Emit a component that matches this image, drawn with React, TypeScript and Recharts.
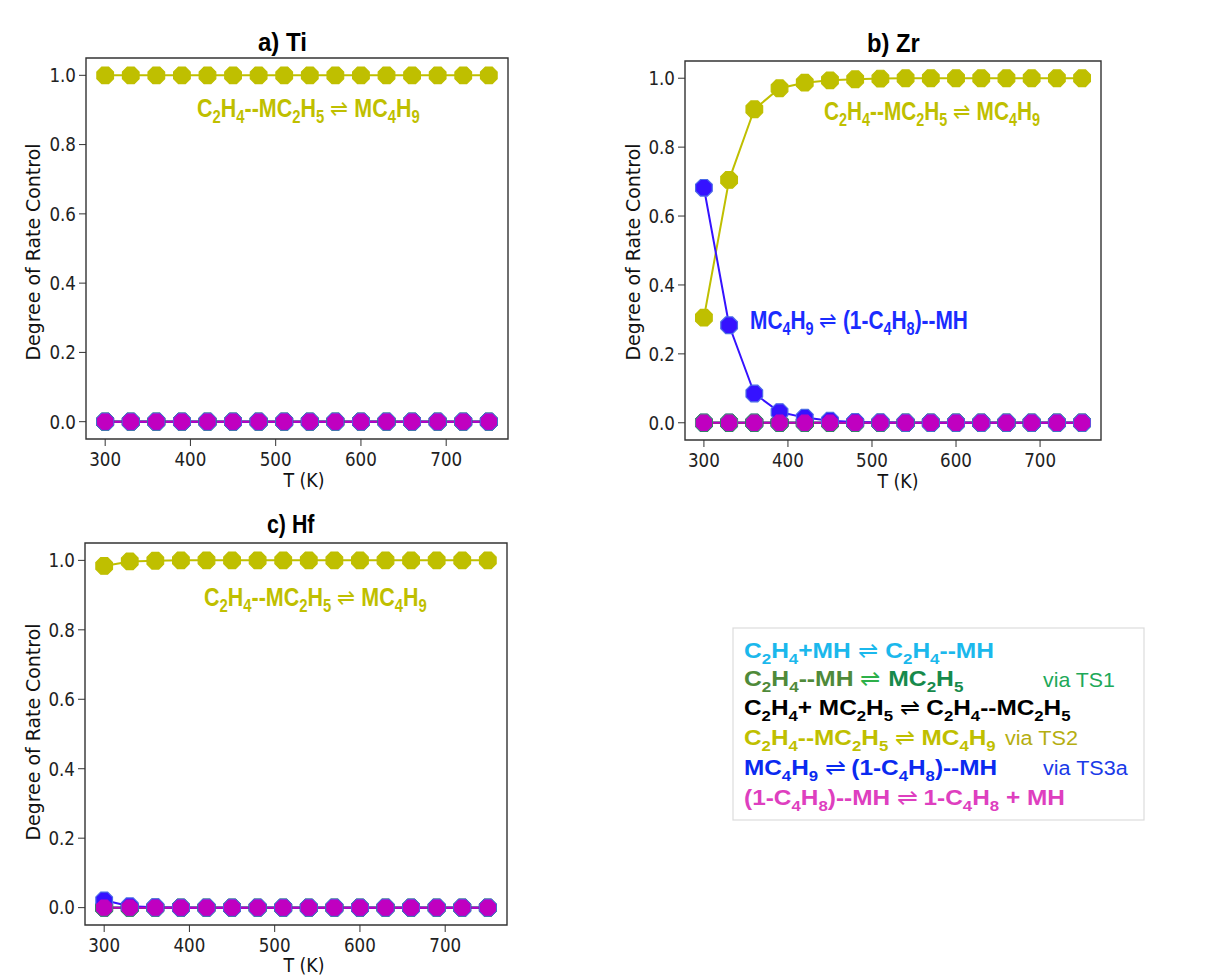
import React, { useLayoutEffect, useRef, useState } from "react";
import { LineChart, Line, XAxis, YAxis, ReferenceArea } from "recharts";

// Temperatures (K) shared by all three metals
const temps = [300, 330, 360, 390, 420, 450, 480, 510, 540, 570, 600, 630, 660, 690, 720, 750];

// Degree of rate control per elementary step
const allZero = [0, 0, 0, 0, 0, 0, 0, 0, 0, 0, 0, 0, 0, 0, 0, 0];
const allOne = [1, 1, 1, 1, 1, 1, 1, 1, 1, 1, 1, 1, 1, 1, 1, 1];

const tiInsertion2 = allOne;
const tiBetaH = allZero;

const zrInsertion2 = [0.305, 0.705, 0.91, 0.971, 0.987, 0.994, 0.997, 0.999, 1, 1, 1, 1, 1, 1, 1, 1];
const zrBetaH = [0.682, 0.283, 0.085, 0.031, 0.015, 0.006, 0.002, 0.001, 0, 0, 0, 0, 0, 0, 0, 0];

const hfInsertion2 = [0.984, 0.997, 0.999, 1, 1, 1, 1, 1, 1, 1, 1, 1, 1, 1, 1, 1];
const hfBetaH = [0.021, 0.004, 0.001, 0, 0, 0, 0, 0, 0, 0, 0, 0, 0, 0, 0, 0];

const xTicks = [300, 400, 500, 600, 700];
const yTicks = [0, 0.2, 0.4, 0.6, 0.8, 1.0];

const YELLOW = "#bfbf00";
const BLUE = "#3512ff";
const MAGENTA = "#c000c0";

// drawing order: later entries sit on top
const steps = [
  { key: "adsorb", color: "#1bb8ec", edge: "#1bb8ec", r: 9 },
  { key: "coord", color: "#000000", edge: "#000000", r: 9 },
  { key: "ins1", color: "#2a8a55", edge: "#3f9a78", r: 9 },
  { key: "ins2", color: YELLOW, edge: YELLOW, r: 9 },
  { key: "beta", color: BLUE, edge: "#4a6ae8", r: 9 },
  { key: "desorb", color: MAGENTA, edge: MAGENTA, r: 8.2 },
];

const buildRows = (ins2: number[], beta: number[]) =>
  temps.map((T, i) => ({
    T,
    adsorb: allZero[i],
    ins1: allZero[i],
    coord: allZero[i],
    ins2: ins2[i],
    beta: beta[i],
    desorb: allZero[i],
  }));

const tiRows = buildRows(tiInsertion2, tiBetaH);
const zrRows = buildRows(zrInsertion2, zrBetaH);
const hfRows = buildRows(hfInsertion2, hfBetaH);

// matplotlib-style "8" marker: octagon with a flat top
const octagon = (props: any, fill: string, stroke: string, r: number) => {
  const { cx, cy, index } = props;
  if (cx == null || cy == null) return <g key={`o-${index}`} />;
  const pts: string[] = [];
  for (let k = 0; k < 8; k++) {
    const a = Math.PI / 8 + (k * Math.PI) / 4;
    pts.push(`${cx + r * Math.cos(a)},${cy + r * Math.sin(a)}`);
  }
  return <polygon key={`o-${index}`} points={pts.join(" ")} fill={fill} stroke={stroke} strokeWidth={1.2} />;
};

// tick labels: DejaVu, slightly condensed
const TICK_SX = 0.88;
const XTick = (p: any) => (
  <text
    x={p.x}
    y={p.y}
    dy="0.74em"
    textAnchor="middle"
    fontFamily="DejaVu Sans"
    fontSize={19}
    fill="#222"
    transform={`translate(${p.x} 0) scale(${TICK_SX} 1) translate(${-p.x} 0)`}
  >
    {p.payload.value}
  </text>
);
const YTick = (p: any) => (
  <text
    x={p.x}
    y={p.y}
    dy="0.36em"
    textAnchor="end"
    fontFamily="DejaVu Sans"
    fontSize={19}
    fill="#222"
    transform={`translate(${p.x} 0) scale(${TICK_SX} 1) translate(${-p.x} 0)`}
  >
    {Number(p.payload.value).toFixed(1)}
  </text>
);

type Rect = { x0: number; y0: number; x1: number; y1: number };

const Panel = ({ rect, rows }: { rect: Rect; rows: any[] }) => {
  const yAxisW = 70;
  const xAxisH = 40;
  const padT = 10;
  const padR = 10;
  const width = yAxisW + (rect.x1 - rect.x0) + padR;
  const height = padT + (rect.y1 - rect.y0) + xAxisH;
  return (
    <div style={{ position: "absolute", left: rect.x0 - yAxisW, top: rect.y0 - padT }}>
      <LineChart width={width} height={height} data={rows} margin={{ top: padT, right: padR, bottom: 0, left: 0 }}>
        <XAxis
          dataKey="T"
          type="number"
          domain={[277.5, 772.5]}
          ticks={xTicks}
          allowDataOverflow
          height={xAxisH}
          tickSize={7}
          tickMargin={6}
          axisLine={false}
          tickLine={{ stroke: "#333" }}
          tick={XTick}
        />
        <YAxis
          type="number"
          domain={[-0.05, 1.05]}
          ticks={yTicks}
          allowDataOverflow
          width={yAxisW}
          tickSize={7}
          tickMargin={3}
          axisLine={false}
          tickLine={{ stroke: "#333" }}
          tick={YTick}
        />
        <ReferenceArea x1={277.5} x2={772.5} y1={-0.05} y2={1.05} fill="none" stroke="#333" strokeWidth={1.4} />
        {steps.map((s) => (
          <Line
            key={s.key}
            dataKey={s.key}
            stroke={s.color}
            strokeWidth={2}
            dot={(p: any) => octagon(p, s.color, s.edge, s.r)}
            activeDot={false}
            isAnimationActive={false}
          />
        ))}
      </LineChart>
    </div>
  );
};

// text squeezed horizontally to a given width
const FitText = ({
  x, y, len, anchor = "start", rotate = 0, children, ...rest
}: any) => {
  const ref = useRef<SVGTextElement>(null);
  const [sx, setSx] = useState(1);
  useLayoutEffect(() => {
    const el = ref.current;
    if (!el) return;
    const w = el.getBBox().width;
    if (w > 0) setSx(len / w);
  }, [len]);
  return (
    <text
      ref={ref}
      x={0}
      y={0}
      textAnchor={anchor}
      transform={`translate(${x} ${y}) rotate(${rotate}) scale(${sx} 1)`}
      {...rest}
    >
      {children}
    </text>
  );
};

// chemical formula runs: "_2" becomes a subscript
type Run = { t: string; c: string; w?: number };

const renderRuns = (runs: Run[], subSize: number, shift: number) => {
  const out: React.ReactNode[] = [];
  let inSub = false;
  let n = 0;
  runs.forEach((run) => {
    run.t.split(/(_\d)/).forEach((part) => {
      if (!part) return;
      if (part.startsWith("_")) {
        out.push(
          <tspan key={n++} dy={inSub ? 0 : shift} fontSize={subSize} fill={run.c}>
            {part.slice(1)}
          </tspan>
        );
        inSub = true;
      } else {
        out.push(
          <tspan key={n++} dy={inSub ? -shift : 0} fill={run.c} fontWeight={run.w}>
            {part}
          </tspan>
        );
        inSub = false;
      }
    });
  });
  return out;
};

const sans = "'Liberation Sans', Arial, sans-serif";

const notes = [
  { x: 197, y: 117, len: 223, runs: [{ t: "C_2H_4--MC_2H_5 ", c: YELLOW }, { t: "⇌", c: YELLOW, w: 400 }, { t: " MC_4H_9", c: YELLOW }] },
  { x: 824, y: 120, len: 216, runs: [{ t: "C_2H_4--MC_2H_5 ", c: YELLOW }, { t: "⇌", c: YELLOW, w: 400 }, { t: " MC_4H_9", c: YELLOW }] },
  { x: 750, y: 329, len: 218, runs: [{ t: "MC_4H_9 ", c: "#1a2cff" }, { t: "⇌", c: "#1a2cff", w: 400 }, { t: " (1-C_4H_8)--MH", c: "#1a2cff" }] },
  { x: 204, y: 606, len: 223, runs: [{ t: "C_2H_4--MC_2H_5 ", c: YELLOW }, { t: "⇌", c: YELLOW, w: 400 }, { t: " MC_4H_9", c: YELLOW }] },
];

const legendLines = [
  { y: 658, len: 250, runs: [{ t: "C_2H_4+MH ", c: "#1bb8ec" }, { t: "⇌", c: "#1bb8ec", w: 400 }, { t: " C_2H_4--MH", c: "#1bb8ec" }] },
  { y: 686, len: 220, runs: [{ t: "C_2H_4--MH ", c: "#4f8a3a" }, { t: "⇌", c: "#2db04a", w: 400 }, { t: " MC_2H_5", c: "#178a4c" }] },
  { y: 715, len: 328, runs: [{ t: "C_2H_4+ MC_2H_5 ", c: "#000" }, { t: "⇌", c: "#000", w: 400 }, { t: " C_2H_4--MC_2H_5", c: "#000" }] },
  { y: 745, len: 253, runs: [{ t: "C_2H_4--MC_2H_5 ", c: YELLOW }, { t: "⇌", c: YELLOW, w: 400 }, { t: " MC_4H_9", c: YELLOW }] },
  { y: 775, len: 254, runs: [{ t: "MC_4H_9 ", c: "#0a2af0" }, { t: "⇌", c: "#0a2af0", w: 400 }, { t: " (1-C_4H_8)--MH", c: "#0a2af0" }] },
  { y: 805, len: 322, runs: [{ t: "(1-C_4H_8)--MH ", c: "#de3fbf" }, { t: "⇌", c: "#de3fbf", w: 400 }, { t: " 1-C_4H_8 + MH", c: "#de3fbf" }] },
];

const viaNotes = [
  { x: 1043, y: 687, len: 72, t: "via TS1", c: "#20a858" },
  { x: 1005, y: 745, len: 73, t: "via TS2", c: "#b5ae10" },
  { x: 1043, y: 775, len: 85, t: "via TS3a", c: "#1a3ae8" },
];

const titles = [
  { x: 258, y: 51, len: 49, t: "a) Ti" },
  { x: 867, y: 52, len: 53, t: "b) Zr" },
  { x: 267, y: 533, len: 48, t: "c) Hf" },
];

const xLabels = [
  { x: 304, y: 487 },
  { x: 898, y: 488 },
  { x: 304, y: 972 },
];

const yLabels = [
  { x: 33, y: 252 },
  { x: 633, y: 252 },
  { x: 33, y: 732 },
];

export default function App() {
  return (
    <div style={{ position: "absolute", left: 0, top: 0, width: 1214, height: 976, background: "#fff" }}>
      <Panel rect={{ x0: 86, y0: 58, x1: 508, y1: 439 }} rows={tiRows} />
      <Panel rect={{ x0: 685, y0: 61, x1: 1101, y1: 440 }} rows={zrRows} />
      <Panel rect={{ x0: 85, y0: 543, x1: 507, y1: 925 }} rows={hfRows} />
      <svg
        width={1214}
        height={976}
        style={{ position: "absolute", left: 0, top: 0, pointerEvents: "none" }}
      >
        {titles.map((d) => (
          <FitText key={d.t} x={d.x} y={d.y} len={d.len} fontFamily={sans} fontWeight="bold" fontSize={25} fill="#000">
            {d.t}
          </FitText>
        ))}
        {xLabels.map((d, i) => (
          <FitText key={`xl-${i}`} x={d.x} y={d.y} len={42} anchor="middle" fontFamily="DejaVu Sans" fontSize={20} fill="#111">
            T (K)
          </FitText>
        ))}
        {yLabels.map((d, i) => (
          <FitText
            key={`yl-${i}`}
            x={d.x}
            y={d.y}
            len={217}
            anchor="middle"
            rotate={-90}
            dominantBaseline="central"
            fontFamily="DejaVu Sans"
            fontSize={20}
            fill="#111"
          >
            Degree of Rate Control
          </FitText>
        ))}
        {notes.map((d, i) => (
          <FitText key={`n-${i}`} x={d.x} y={d.y} len={d.len} fontFamily={sans} fontWeight="bold" fontSize={26}>
            {renderRuns(d.runs, 18, 6)}
          </FitText>
        ))}
        <rect x={733} y={628} width={411} height={192} fill="#fff" stroke="#dcdcdc" strokeWidth={1.2} />
        {legendLines.map((d, i) => (
          <FitText key={`l-${i}`} x={744} y={d.y} len={d.len} fontFamily={sans} fontWeight="bold" fontSize={22.5}>
            {renderRuns(d.runs, 15.5, 5.5)}
          </FitText>
        ))}
        {viaNotes.map((d) => (
          <FitText key={d.t} x={d.x} y={d.y} len={d.len} fontFamily={sans} fontSize={21} fill={d.c}>
            {d.t}
          </FitText>
        ))}
      </svg>
    </div>
  );
}
